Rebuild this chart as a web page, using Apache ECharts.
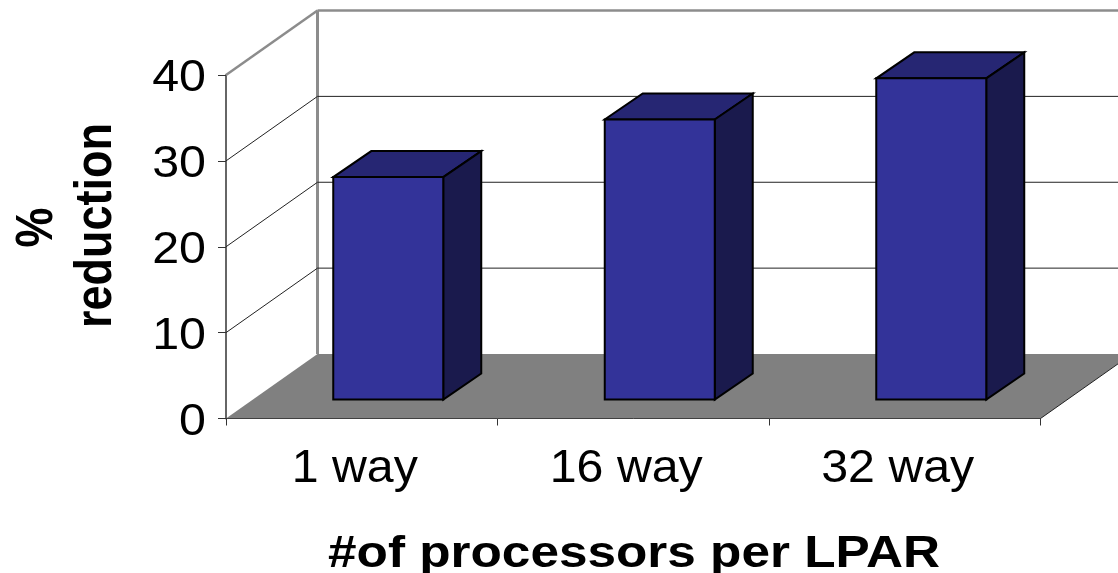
<!DOCTYPE html>
<html>
<head>
<meta charset="utf-8">
<style>html,body{margin:0;padding:0;background:#fff}#chart{width:1118px;height:573px}</style>
<script src="https://cdn.jsdelivr.net/npm/echarts@6/dist/echarts.min.js"></script>
</head>
<body>
<div id="chart"></div>
<script>
// Reduction per LPAR size
var categories = ['1 way', '16 way', '32 way'];
var reduction = [25.9, 32.6, 37.4];
var yTicks = [0, 10, 20, 30, 40];
var xTitle = '#of processors per LPAR';
var yTitleLines = ['%', 'reduction'];

// Oblique projection used for the walls, the floor and the columns
var WALL_DX = 91.5, WALL_DY = 64.5;
var BAR_SHIFT_X = 26.5, BAR_SHIFT_Y = 19;
var BAR_WIDTH = 110, BAR_DX = 38, BAR_DY = 26;
// Fonts and their horizontal widening
var VALUE_FONT = '44px "Liberation Sans", Arial, sans-serif';
var CATEGORY_FONT = '46px "Liberation Sans", Arial, sans-serif';
var TITLE_FONT = 'bold 45px "Liberation Sans", Arial, sans-serif';
var VALUE_STRETCH = 1.1, CATEGORY_STRETCH = 1.05, TITLE_STRETCH = 1.14;

function poly(points, fill, stroke, width) {
  return {
    type: 'polygon',
    shape: { points: points },
    style: { fill: fill, stroke: stroke, lineWidth: width, lineJoin: 'miter' }
  };
}
function seg(x1, y1, x2, y2, color, width) {
  return {
    type: 'line',
    shape: { x1: x1, y1: y1, x2: x2, y2: y2 },
    style: { stroke: color, lineWidth: width }
  };
}
function label(str, x, y, font, align, scaleX, scaleY, rotation) {
  return {
    type: 'text',
    x: x,
    y: y,
    scaleX: scaleX,
    scaleY: scaleY,
    rotation: rotation || 0,
    style: { text: str, x: 0, y: 0, font: font, fill: '#000', textAlign: align, textVerticalAlign: 'middle' }
  };
}

var chart = echarts.init(document.getElementById('chart'), null, { renderer: 'canvas' });
chart.setOption({
  animation: false,
  backgroundColor: '#ffffff',
  grid: { left: 226, top: 75, right: 77.5, bottom: 154.5, containLabel: false, outerBoundsMode: 'none' },
  xAxis: {
    type: 'category',
    data: categories,
    boundaryGap: true,
    axisLine: { show: true, onZero: false, lineStyle: { color: '#000', width: 1 } },
    axisTick: { show: true, alignWithLabel: false, length: 7, lineStyle: { color: '#333', width: 1 } },
    axisLabel: { show: false },
    splitLine: { show: false }
  },
  yAxis: {
    type: 'value',
    min: 0,
    max: 40,
    interval: 10,
    axisLine: { show: true, lineStyle: { color: '#666', width: 2 } },
    axisTick: { show: true, length: 8, lineStyle: { color: '#333', width: 1 } },
    axisLabel: { show: false },
    splitLine: { show: false }
  },
  graphic: {
    elements: [
      Object.assign(label(xTitle, 634, 555, TITLE_FONT, 'center', TITLE_STRETCH, 1, 0), { z: 10 }),
      Object.assign(label(yTitleLines[0], 37.5, 227.5, TITLE_FONT, 'center', 1, TITLE_STRETCH, Math.PI / 2), { z: 10 }),
      Object.assign(label(yTitleLines[1], 97, 225.5, TITLE_FONT, 'center', 1, TITLE_STRETCH, Math.PI / 2), { z: 10 })
    ]
  },
  series: [
    {
      // Floor and back wall edge
      type: 'custom',
      coordinateSystem: 'cartesian2d',
      clip: false,
      z: 1,
      data: [[0, 0]],
      renderItem: function (params, api) {
        var g = params.coordSys;
        var base = api.coord([0, 0])[1];
        var top = api.coord([0, 40])[1];
        return {
          type: 'group',
          children: [
            seg(g.x + WALL_DX, base - WALL_DY, g.x + WALL_DX, top - WALL_DY, '#8c8c8c', 3),
            poly([
              [g.x, base], [g.x + g.width, base],
              [g.x + g.width + WALL_DX, base - WALL_DY], [g.x + WALL_DX, base - WALL_DY]
            ], '#808080', 'none', 0),
            seg(g.x + g.width, base, g.x + g.width + WALL_DX, base - WALL_DY, '#222', 1)
          ]
        };
      }
    },
    {
      // Gridlines along the side wall and across the back wall, with the value labels
      type: 'custom',
      coordinateSystem: 'cartesian2d',
      clip: false,
      z: 2,
      data: yTicks.map(function (t) { return [0, t]; }),
      renderItem: function (params, api) {
        var g = params.coordSys;
        var t = api.value(1);
        var y = api.coord([0, t])[1];
        var text = label(String(t), 206, y + 4, VALUE_FONT, 'right', VALUE_STRETCH, 1, 0);
        if (t === 0) {
          return text;
        }
        var top = t === 40;
        var color = top ? '#8c8c8c' : '#222';
        var w = top ? 2.5 : 1;
        return {
          type: 'group',
          children: [
            seg(g.x, y, g.x + WALL_DX, y - WALL_DY, color, w),
            seg(g.x + WALL_DX, y - WALL_DY, g.x + g.width + WALL_DX, y - WALL_DY, color, w),
            text
          ]
        };
      }
    },
    {
      // Columns: front, top and side faces, with the category label below
      type: 'custom',
      coordinateSystem: 'cartesian2d',
      clip: false,
      z: 3,
      data: reduction.map(function (v, i) { return [i, v]; }),
      encode: { x: 0, y: 1 },
      renderItem: function (params, api) {
        var topPt = api.coord([api.value(0), api.value(1)]);
        var basePt = api.coord([api.value(0), 0]);
        var l = topPt[0] + BAR_SHIFT_X - BAR_WIDTH / 2;
        var r = l + BAR_WIDTH;
        var t = topPt[1] - BAR_SHIFT_Y;
        var b = basePt[1] - BAR_SHIFT_Y;
        return {
          type: 'group',
          children: [
            poly([[l, t], [r, t], [r + BAR_DX, t - BAR_DY], [l + BAR_DX, t - BAR_DY]], '#262673', '#000', 2),
            poly([[r, t], [r + BAR_DX, t - BAR_DY], [r + BAR_DX, b - BAR_DY], [r, b]], '#1a1a4d', '#000', 2),
            poly([[l, t], [r, t], [r, b], [l, b]], '#333399', '#000', 2),
            label(categories[params.dataIndex], topPt[0] - 7, 469, CATEGORY_FONT, 'center', CATEGORY_STRETCH, 1, 0)
          ]
        };
      }
    }
  ]
});
</script>
</body>
</html>
